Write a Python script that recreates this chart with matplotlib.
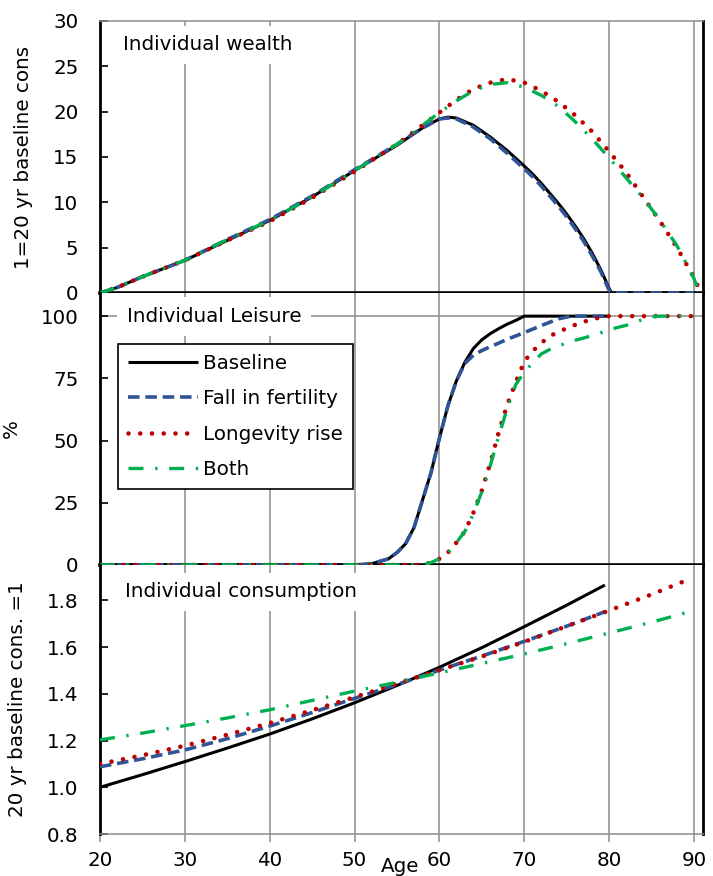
import matplotlib
matplotlib.use("Agg")
import matplotlib.pyplot as plt

# ---------------- data ----------------
# Individual wealth (1 = 20 yr baseline consumption)
w_age_base = [20, 22, 25, 30, 35, 40, 45, 50, 55, 58, 60, 61, 62, 64, 66, 68, 70, 71, 72, 73, 74, 75, 76, 77, 78, 79, 80, 80.3, 85, 90]
w_base = [0, 0.6, 1.8, 3.6, 5.8, 8.0, 10.6, 13.5, 16.3, 18.2, 19.2, 19.4, 19.3, 18.5, 17.2, 15.7, 14.0, 13.1, 12.1, 11.0, 9.9, 8.7, 7.4, 6.0, 4.4, 2.6, 0.5, 0, 0, 0]
w_age_fert = [20, 22, 25, 30, 35, 40, 45, 50, 55, 58, 60, 61, 62, 64, 66, 68, 70, 71, 72, 73, 74, 75, 76, 77, 78, 79, 80, 80.3, 85, 90]
w_fert = [0, 0.6, 1.8, 3.6, 5.9, 8.1, 10.7, 13.6, 16.4, 18.2, 19.2, 19.3, 19.2, 18.3, 17.0, 15.4, 13.7, 12.8, 11.8, 10.7, 9.6, 8.4, 7.1, 5.7, 4.1, 2.4, 0.3, 0, 0, 0]
w_age_long = [20, 22, 25, 30, 35, 40, 45, 50, 55, 58, 60, 62, 64, 66, 68, 70, 72, 74, 76, 78, 80, 82, 84, 86, 88, 90, 90.8]
w_long = [0, 0.6, 1.8, 3.6, 5.8, 7.9, 10.5, 13.4, 16.4, 18.5, 19.9, 21.3, 22.5, 23.2, 23.6, 23.2, 22.3, 21.1, 19.6, 17.8, 15.6, 13.3, 10.6, 7.9, 5.0, 1.7, 0]
w_age_both = [20, 22, 25, 30, 35, 40, 45, 50, 55, 58, 60, 62, 64, 66, 68, 70, 72, 74, 76, 78, 80, 82, 84, 86, 88, 90, 90.6]
w_both = [0, 0.6, 1.8, 3.6, 5.9, 8.0, 10.6, 13.5, 16.4, 18.5, 19.9, 21.2, 22.3, 23.0, 23.2, 22.7, 21.8, 20.6, 18.9, 17.0, 14.9, 12.7, 10.5, 8.0, 5.2, 1.6, 0]

# Individual leisure (%)
l_age_base = [20, 50, 52, 54, 55, 56, 57, 58, 59, 60, 61, 62, 63, 64, 65, 66, 67, 68, 69, 70, 80]
l_base = [0, 0, 0.5, 2.5, 5, 8.5, 15, 26, 37, 51, 64, 74, 81.5, 87, 90.5, 93, 95, 96.8, 98.3, 100, 100]
l_age_fert = [20, 50, 52, 54, 55, 56, 57, 58, 59, 60, 61, 62, 63, 64, 65, 66, 68, 70, 72, 74, 75.5, 80]
l_fert = [0, 0, 0.5, 2.5, 5, 8.5, 15, 26, 37, 51, 64, 74, 81, 84.3, 86.2, 87.7, 90.7, 93.4, 96.2, 98.9, 100, 100]
l_age_long = [20, 58, 59, 60, 61, 62, 63, 64, 65, 66, 67, 68, 69, 70, 71, 72, 73, 74, 75, 76, 77, 78, 79, 80, 90]
l_long = [0, 0, 1, 2.5, 5, 9, 13.5, 21, 30, 41, 53.5, 64.5, 73.5, 81.8, 86, 89.2, 91.9, 93.7, 95.1, 96.5, 97.7, 98.8, 99.5, 100, 100]
l_age_both = [20, 58, 59, 60, 61, 62, 63, 64, 65, 66, 67, 68, 69, 70, 71, 72, 73, 74, 75, 76, 77, 78, 79, 80, 82, 84, 85, 86, 90]
l_both = [0, 0, 1, 2.5, 5, 9, 13.5, 20.5, 29.5, 40, 52, 63, 72.5, 77.5, 81.3, 84.8, 86.6, 88, 89.2, 90.3, 91.2, 92.2, 93.3, 94.6, 96.3, 98.7, 99.8, 100, 100]

# Individual consumption (20 yr baseline cons. = 1)
c_age_base = [20, 25, 30, 35, 40, 45, 50, 55, 60, 65, 70, 75, 79.5]
c_base = [1.0, 1.054, 1.11, 1.168, 1.228, 1.293, 1.362, 1.436, 1.514, 1.598, 1.688, 1.78, 1.866]
c_age_fert = [20, 25, 30, 35, 40, 45, 50, 55, 60, 65, 70, 75, 79.5]
c_fert = [1.088, 1.122, 1.16, 1.208, 1.262, 1.32, 1.381, 1.44, 1.502, 1.562, 1.625, 1.69, 1.752]
c_age_long = [20, 25, 30, 35, 40, 45, 50, 55, 60, 65, 70, 75, 80, 85, 89.5]
c_long = [1.1, 1.137, 1.178, 1.225, 1.275, 1.33, 1.386, 1.444, 1.502, 1.56, 1.623, 1.69, 1.757, 1.826, 1.892]
c_age_both = [20, 25, 30, 35, 40, 45, 50, 55, 60, 65, 70, 75, 80, 85, 89.5]
c_both = [1.203, 1.232, 1.264, 1.297, 1.332, 1.372, 1.412, 1.45, 1.49, 1.53, 1.571, 1.615, 1.661, 1.707, 1.752]

series_names = ["Baseline", "Fall in fertility", "Longevity rise", "Both"]
x_ticks = [20, 30, 40, 50, 60, 70, 80, 90]

# ---------------- styling ----------------
plt.rcParams['font.family'] = ['DejaVu Sans']
fs = 14.3
grid_col = '#8C8C8C'
styles = [
    dict(color='black', lw=2.2, ls='-'),
    dict(color='#2F5597', lw=2.6, ls=(0, (3.2, 1.6))),
    dict(color='#C00000', lw=3.3, ls=(0, (0.01, 2.55)), dash_capstyle='round'),
    dict(color='#00B050', lw=2.4, ls=(0, (4.5, 3.5, 0.7, 3.5))),
]

fig = plt.figure(figsize=(7.13, 8.76), dpi=100)
left, width = 100 / 713, 603 / 713
ax_w = fig.add_axes([left, 1 - 293 / 876, width, 272 / 876])
ax_l = fig.add_axes([left, 1 - 565 / 876, width, 272 / 876])
ax_c = fig.add_axes([left, 1 - 834 / 876, width, 269 / 876])

panels = [
    (ax_w, [(w_age_base, w_base), (w_age_fert, w_fert), (w_age_long, w_long), (w_age_both, w_both)]),
    (ax_l, [(l_age_base, l_base), (l_age_fert, l_fert), (l_age_long, l_long), (l_age_both, l_both)]),
    (ax_c, [(c_age_base, c_base), (c_age_fert, c_fert), (c_age_long, c_long), (c_age_both, c_both)]),
]

for ax, data in panels:
    for (xs, ys), st, name in zip(data, styles, series_names):
        ax.plot(xs, ys, label=name, solid_capstyle='butt', solid_joinstyle='round', zorder=3, **st)
    ax.set_xlim(20, 91.06)
    ax.set_xticks(x_ticks)
    ax.grid(axis='x', color=grid_col, lw=1.1)
    ax.set_axisbelow(True)
    ax.tick_params(axis='y', direction='in', length=6, width=1.2, color='black', pad=15.5, labelsize=fs)
    for side in ['left', 'right']:
        ax.spines[side].set_color('black')
        ax.spines[side].set_linewidth(2)

# wealth panel
ax_w.set_ylim(0, 30)
ax_w.set_yticks(range(0, 31, 5))
ax_w.tick_params(axis='x', length=0, labelbottom=False)
ax_w.spines['top'].set_color(grid_col)
ax_w.spines['top'].set_linewidth(1.1)
ax_w.spines['bottom'].set_linewidth(2.6)
ax_w.set_ylabel("1=20 yr baseline cons", fontsize=fs)
ax_w.yaxis.set_label_coords(-0.111, 0.5)

# leisure panel
ax_l.set_ylim(0, 109.3)
ax_l.set_yticks([0, 25, 50, 75, 100])
ax_l.axhline(100, color=grid_col, lw=1.1, zorder=0.5)
ax_l.tick_params(axis='x', length=0, labelbottom=False)
ax_l.spines['top'].set_visible(False)
ax_l.spines['bottom'].set_linewidth(2.6)
ax_l.set_ylabel("%", fontsize=fs)
ax_l.yaxis.set_label_coords(-0.131, 0.5)

# consumption panel
ax_c.set_ylim(0.8, 1.952)
ax_c.set_yticks([0.8, 1.0, 1.2, 1.4, 1.6, 1.8])
ax_c.set_yticklabels(['0.8', '1.0', '1.2', '1.4', '1.6', '1.8'])
ax_c.spines['top'].set_visible(False)
ax_c.spines['bottom'].set_color(grid_col)
ax_c.spines['bottom'].set_linewidth(1.1)
ax_c.tick_params(axis='x', direction='out', length=6, width=1.1, color=grid_col, pad=6.5, labelsize=fs)
ax_c.set_ylabel("20 yr baseline cons. =1", fontsize=fs)
ax_c.yaxis.set_label_coords(-0.121, 0.5)

# panel titles with white boxes that hide the grid
box = dict(facecolor='white', edgecolor='none', pad=7)
ax_w.text(0.038, 0.912, "Individual wealth", transform=ax_w.transAxes, fontsize=fs,
          va='center', ha='left', bbox=box, zorder=2)
ax_l.text(0.045, 0.913, "Individual Leisure", transform=ax_l.transAxes, fontsize=fs,
          va='center', ha='left', bbox=box, zorder=2)
ax_c.text(0.0415, 0.900, "Individual consumption", transform=ax_c.transAxes, fontsize=fs,
          va='center', ha='left', bbox=box, zorder=2)

# legend in the leisure panel
leg = ax_l.legend(loc='upper left', bbox_to_anchor=(0.030, 0.8125), fontsize=fs,
                  frameon=True, fancybox=False, framealpha=1, edgecolor='black',
                  handlelength=3.5, handletextpad=0.3, labelspacing=0.82, borderpad=0.5,
                  borderaxespad=0)
leg.get_frame().set_linewidth(1.2)
leg.set_zorder(5)

fig.text(400 / 713, 1 - 867 / 876, "Age", fontsize=fs, ha='center', va='center')

fig.savefig("out.png", dpi=100)
